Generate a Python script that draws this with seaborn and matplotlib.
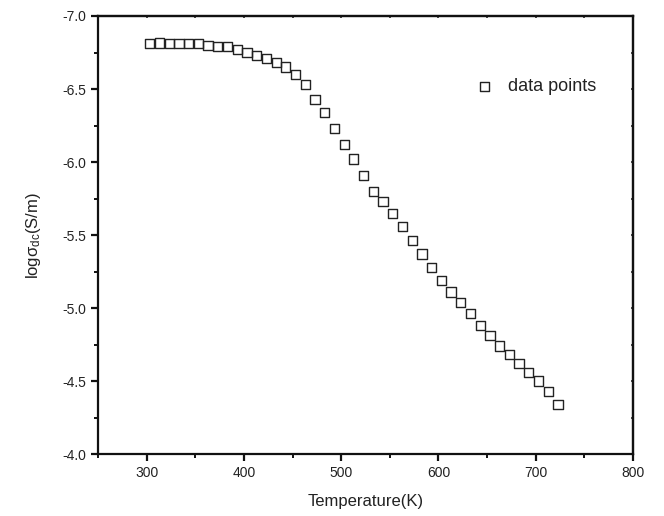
import numpy as np
import pandas as pd
import matplotlib
matplotlib.use("Agg")
import matplotlib.pyplot as plt
import seaborn as sns
from matplotlib.ticker import MultipleLocator

# dados
temperatura = [303, 313, 323, 333, 343, 353, 363, 373, 383, 393, 403, 413, 423,
               433, 443, 453, 463, 473, 483, 493, 503, 513, 523, 533, 543, 553,
               563, 573, 583, 593, 603, 613, 623, 633, 643, 653, 663, 673, 683,
               693, 703, 713, 723]
log_sigma = [-6.81, -6.815, -6.81, -6.81, -6.81, -6.81, -6.80, -6.79, -6.79,
             -6.77, -6.75, -6.73, -6.71, -6.68, -6.65, -6.60, -6.53, -6.43,
             -6.34, -6.23, -6.12, -6.02, -5.91, -5.80, -5.73, -5.65, -5.56,
             -5.46, -5.37, -5.28, -5.19, -5.11, -5.04, -4.96, -4.88, -4.81,
             -4.74, -4.68, -4.62, -4.56, -4.50, -4.43, -4.34]
x_ticks = [300, 400, 500, 600, 700, 800]
y_ticks = [-7.0, -6.5, -6.0, -5.5, -5.0, -4.5, -4.0]

df = pd.DataFrame({"T": temperatura, "logs": log_sigma})

sns.set_style("white")
plt.rcParams['font.family'] = ['Liberation Sans', 'DejaVu Sans']
plt.rcParams['mathtext.fontset'] = 'custom'
plt.rcParams['mathtext.rm'] = 'Liberation Sans'
plt.rcParams['mathtext.it'] = 'Liberation Sans:italic'

fig = plt.figure(figsize=(6.64, 5.16), dpi=100)
ax = fig.add_axes([0.148, 0.12, 0.805, 0.849])

sns.scatterplot(data=df, x="T", y="logs", marker="s", s=44,
                facecolor="none", edgecolor="#222222", linewidth=1.0,
                label="data points", ax=ax)

ax.set_xlim(250, 800)
ax.set_ylim(-4.0, -7.0)
ax.set_xticks(x_ticks)
ax.set_yticks(y_ticks)
ax.set_yticklabels([f"{v:.1f}" for v in y_ticks])
ax.xaxis.set_minor_locator(MultipleLocator(50))
ax.yaxis.set_minor_locator(MultipleLocator(0.25))

for sp in ax.spines.values():
    sp.set_linewidth(1.6)
    sp.set_color("#111111")

# eixos esquerdo e inferior com ticks para fora
ax.tick_params(axis="both", which="major", direction="out", length=5, width=1.6,
               labelsize=10, labelcolor="#222222", color="#111111",
               bottom=True, left=True, top=False, right=False)
ax.tick_params(axis="both", which="minor", direction="out", length=3, width=1.4,
               color="#111111", bottom=True, left=True, top=False, right=False)

# topo e direita: ticks bem pequenos, sem rótulos
topo = ax.secondary_xaxis("top")
topo.set_xticks(x_ticks)
topo.xaxis.set_minor_locator(MultipleLocator(50))
topo.tick_params(which="both", direction="in", length=1.5, width=1.2, labeltop=False)
topo.spines["top"].set_linewidth(1.6)
direita = ax.secondary_yaxis("right")
direita.set_yticks(y_ticks)
direita.yaxis.set_minor_locator(MultipleLocator(0.25))
direita.tick_params(which="both", direction="in", length=1.5, width=1.2, labelright=False)
direita.spines["right"].set_linewidth(1.6)

ax.set_xlabel("Temperature(K)", fontsize=12, labelpad=10, color="#222222")
ax.set_ylabel(r"logσ$_{\mathrm{dc}}$(S/m)", fontsize=12, labelpad=14, color="#222222")

leg = ax.legend(loc="upper left", bbox_to_anchor=(0.665, 0.895), frameon=False,
                fontsize=13, handletextpad=0.5, handlelength=1.6)
for t in leg.get_texts():
    t.set_color("#222222")

fig.savefig("out.png", dpi=100)
